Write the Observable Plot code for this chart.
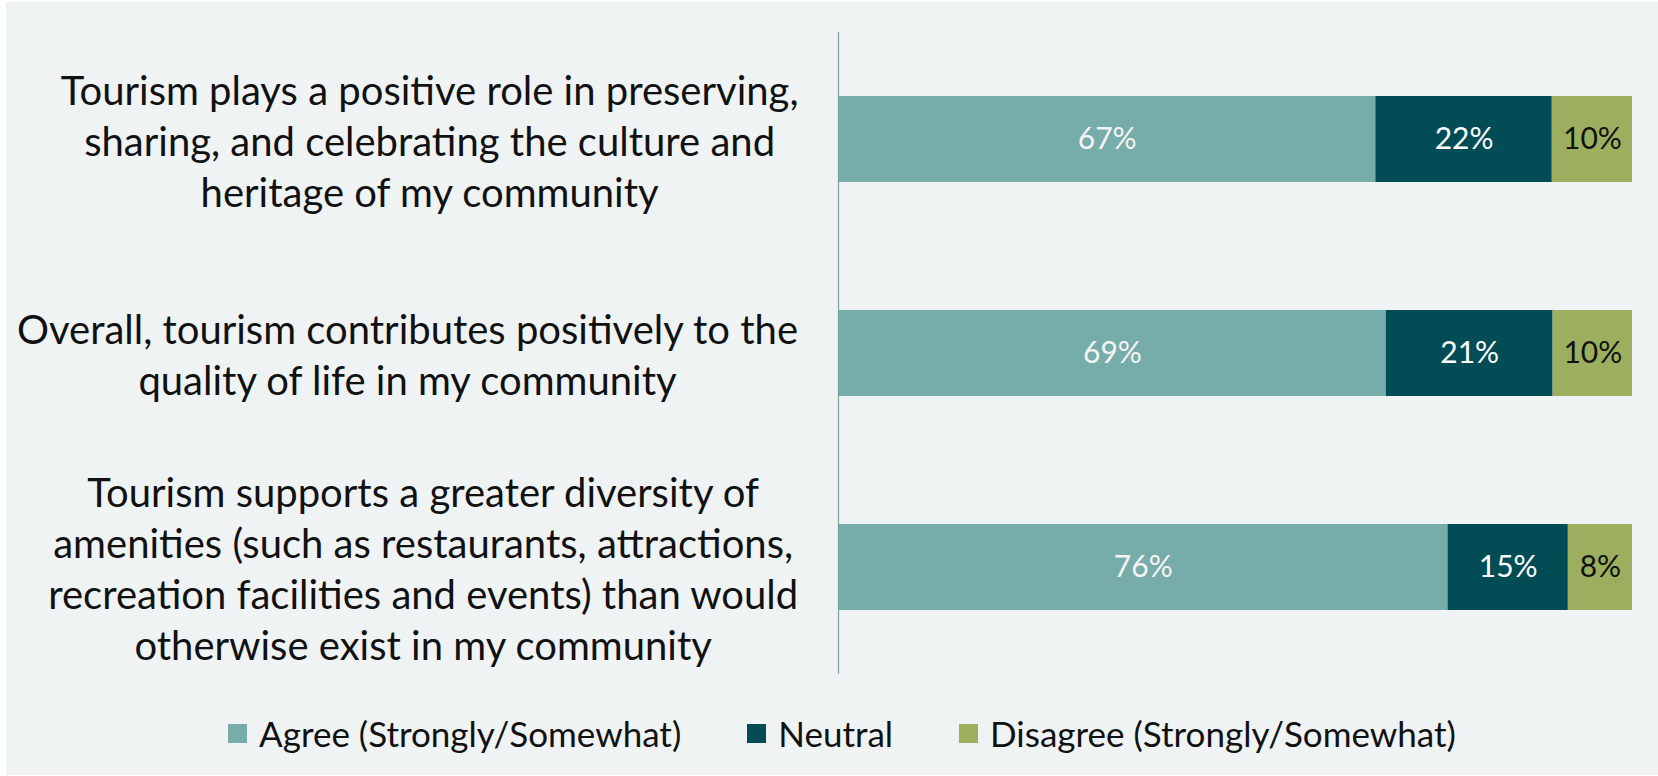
<!DOCTYPE html>
<html>
<head>
<meta charset="utf-8">
<script src="https://cdn.jsdelivr.net/npm/d3@7"></script>
<script src="https://cdn.jsdelivr.net/npm/@observablehq/plot@0.6"></script>
<style>
  html, body { margin: 0; padding: 0; background: #ffffff; }
  #frame {
    position: absolute; left: 6px; top: 2px; width: 1652px; height: 773px;
    background: #EFF3F4; font-family: Lato, "Open Sans", sans-serif;
  }
  #legend {
    display: flex; align-items: center; height: 82px;
    padding-left: 222px; font-size: 35px; color: #111;
  }
  .item { display: flex; align-items: center; margin-right: 66px; }
  .sw { width: 19px; height: 19px; margin-right: 12px; }
</style>
</head>
<body>
<div id="frame"><div id="chart"></div><div id="legend"></div></div>
<script>
const statements = [
  "Tourism plays a positive role in preserving,\nsharing, and celebrating the culture and\nheritage of my community",
  "Overall, tourism contributes positively to the\nquality of life in my community",
  "Tourism supports a greater diversity of\namenities (such as restaurants, attractions,\nrecreation facilities and events) than would\notherwise exist in my community"
];
const responses = ["Agree (Strongly/Somewhat)", "Neutral", "Disagree (Strongly/Somewhat)"];
const agree = [67, 69, 76];
const neutral = [22, 21, 15];
const disagree = [10, 10, 8];
const colors = ["#76ACA9", "#024C55", "#9BAF5F"];
const labelColors = ["#F4F4F4", "#FFFFFF", "#111111"];

const series = [agree, neutral, disagree];
const data = [];
statements.forEach((q, i) => {
  responses.forEach((r, j) => data.push({q, r, value: series[j][i]}));
});

const W = 1652, H = 690, ML = 832, MR = 26, MT = 30, MB = 18;
const labelFont = 40, labelFamily = "Lato";
const ctx = document.createElement("canvas").getContext("2d");
ctx.font = `${labelFont}px ${labelFamily}`;
const labelMarks = statements.map(q => {
  const w = d3.max(q.split("\n"), l => ctx.measureText(l).width);
  return Plot.text([q], {
    y: d => d, text: d => d, frameAnchor: "left", textAnchor: "middle",
    dx: -40 - w / 2, lineHeight: 1.275, fontSize: labelFont,
    fontFamily: labelFamily, fill: "#111"
  });
});

const chart = Plot.plot({
  width: W, height: H,
  marginLeft: ML, marginRight: MR, marginTop: MT, marginBottom: MB,
  style: {background: "transparent", fontFamily: labelFamily},
  x: {domain: [0, 1], axis: null},
  y: {domain: statements, paddingInner: 0.6, paddingOuter: 0.3, axis: null},
  color: {domain: responses, range: colors},
  marks: [
    Plot.barX(data, Plot.stackX({
      x: "value", y: "q", z: "r", fill: "r", order: responses, offset: "normalize"
    })),
    Plot.text(data, Plot.stackX({
      x: "value", y: "q", z: "r", order: responses, offset: "normalize",
      text: d => d.value + "%",
      fill: d => labelColors[responses.indexOf(d.r)],
      fontSize: 30, fontFamily: labelFamily
    })),
    Plot.ruleX([0], {stroke: "#7FA09F", strokeWidth: 1.2}),
    ...labelMarks
  ]
});
document.getElementById("chart").appendChild(chart);

const legend = document.getElementById("legend");
responses.forEach((r, j) => {
  const it = document.createElement("div");
  it.className = "item";
  const sw = document.createElement("div");
  sw.className = "sw"; sw.style.background = colors[j];
  const t = document.createElement("span");
  t.textContent = r;
  it.appendChild(sw); it.appendChild(t);
  legend.appendChild(it);
});
</script>
</body>
</html>
